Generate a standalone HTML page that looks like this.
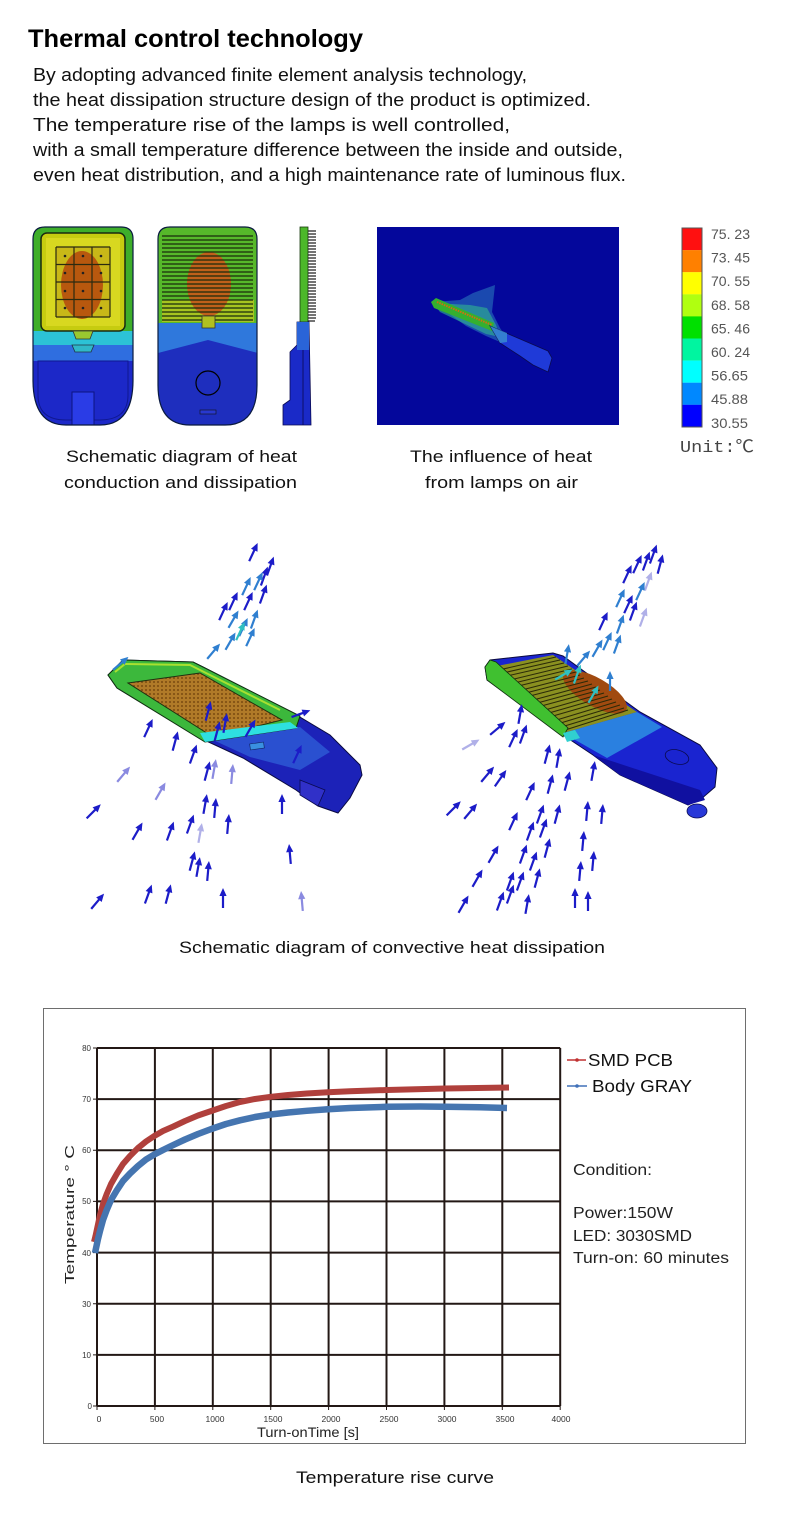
<!DOCTYPE html>
<html><head><meta charset="utf-8"><style>
html,body{margin:0;padding:0;background:#fff;}
svg{display:block;}
text{font-family:"Liberation Sans","Noto Sans CJK SC",sans-serif;}
</style></head><body>
<svg width="790" height="1532" viewBox="0 0 790 1532" xmlns="http://www.w3.org/2000/svg">
<defs>
<g id="ar"><path d="M0,9 L0,-5" stroke="currentColor" stroke-width="2.2" fill="none"/><path d="M-3.6,-3 L0,-11 L3.6,-3 Z" fill="currentColor"/></g>
<pattern id="dots" width="4" height="4" patternUnits="userSpaceOnUse"><rect width="4" height="4" fill="#b07a28"/><circle cx="2" cy="2" r="1" fill="#7a4a10"/></pattern>
<clipPath id="c1"><path d="M45,227 H121 Q133,227 133,239 V380 Q133,425 100,425 H66 Q33,425 33,380 V239 Q33,227 45,227 Z"/></clipPath>
<clipPath id="c2"><path d="M170,227 H245 Q257,227 257,239 V385 Q257,425 225,425 H190 Q158,425 158,385 V239 Q158,227 170,227 Z"/></clipPath>
</defs>

<!-- Title & body -->
<text x="28" y="47" font-size="25" font-weight="bold" fill="#000" textLength="335" lengthAdjust="spacingAndGlyphs">Thermal control technology</text>
<g font-size="18" fill="#111">
<text x="33" y="81" textLength="494" lengthAdjust="spacingAndGlyphs">By adopting advanced finite element analysis technology,</text>
<text x="33" y="106" textLength="558" lengthAdjust="spacingAndGlyphs">the heat dissipation structure design of the product is optimized.</text>
<text x="33" y="131" textLength="477" lengthAdjust="spacingAndGlyphs">The temperature rise of the lamps is well controlled,</text>
<text x="33" y="156" textLength="590" lengthAdjust="spacingAndGlyphs">with a small temperature difference between the inside and outside,</text>
<text x="33" y="181" textLength="593" lengthAdjust="spacingAndGlyphs">even heat distribution, and a high maintenance rate of luminous flux.</text>
</g>

<!-- Image 1: front view -->
<g clip-path="url(#c1)">
<rect x="33" y="227" width="100" height="198" fill="#1c28c8"/>
<rect x="33" y="227" width="100" height="106" fill="#3eae2a"/>
<rect x="33" y="331" width="100" height="14" fill="#2cc2d6"/>
<rect x="33" y="345" width="100" height="16" fill="#2f6ee0"/>
<path d="M38,361 H128 V395 Q128,420 100,420 H66 Q38,420 38,395 Z" fill="none" stroke="#101890" stroke-width="1"/>
<rect x="72" y="392" width="22" height="35" fill="#2a3ce6" stroke="#0c1480" stroke-width="1"/>
</g>
<path d="M45,227 H121 Q133,227 133,239 V380 Q133,425 100,425 H66 Q33,425 33,380 V239 Q33,227 45,227 Z" fill="none" stroke="#0a1a40" stroke-width="1.2"/>
<rect x="41" y="233" width="84" height="98" rx="6" fill="#c6cc10" stroke="#1a2a10" stroke-width="1.5"/>
<rect x="46" y="238" width="74" height="88" fill="#d8d820"/>
<rect x="56" y="247" width="54" height="70" fill="#c8b818"/>
<ellipse cx="82" cy="285" rx="21" ry="34" fill="#b8580e"/>
<g stroke="#2a2a10" stroke-width="1.2">
<path d="M56,247 V317 M74,247 V317 M92,247 V317 M110,247 V317 M56,247 H110 M56,264.5 H110 M56,282 H110 M56,299.5 H110 M56,317 H110"/>
</g>
<g fill="#222"><circle cx="65" cy="256" r="1.3"/><circle cx="83" cy="256" r="1.3"/><circle cx="101" cy="256" r="1.3"/><circle cx="65" cy="273" r="1.3"/><circle cx="83" cy="273" r="1.3"/><circle cx="101" cy="273" r="1.3"/><circle cx="65" cy="291" r="1.3"/><circle cx="83" cy="291" r="1.3"/><circle cx="101" cy="291" r="1.3"/><circle cx="65" cy="308" r="1.3"/><circle cx="83" cy="308" r="1.3"/><circle cx="101" cy="308" r="1.3"/></g>
<path d="M73,331 H93 L90,339 H76 Z" fill="#9ac830" stroke="#333" stroke-width="0.8"/>
<path d="M72,345 H94 L91,352 H75 Z" fill="#30b8c8" stroke="#234" stroke-width="0.8"/>

<!-- Image 2: back view -->
<g clip-path="url(#c2)">
<rect x="158" y="227" width="100" height="198" fill="#1e2ebe"/>
<rect x="158" y="227" width="100" height="97" fill="#56b82a"/>
<rect x="162" y="300" width="92" height="22" fill="#a6c420"/>
<ellipse cx="209" cy="284" rx="22" ry="32" fill="#c0601a"/>
<path d="M158,323 H258 V353 L208,340 L158,353 Z" fill="#2f78dc"/>
<g stroke="#1a2a0c" stroke-width="1.2">
<path d="M162,236 H253 M162,240 H253 M162,244 H253 M162,248 H253 M162,252 H253 M162,256 H253 M162,260 H253 M162,264 H253 M162,268 H253 M162,272 H253 M162,276 H253 M162,280 H253 M162,284 H253 M162,288 H253 M162,292 H253 M162,296 H253 M162,300 H253 M162,304 H253 M162,308 H253 M162,312 H253 M162,316 H253 M162,320 H253"/>
</g>
<rect x="202" y="316" width="13" height="12" fill="#b0c020" stroke="#333" stroke-width="0.8"/>
</g>
<path d="M170,227 H245 Q257,227 257,239 V385 Q257,425 225,425 H190 Q158,425 158,385 V239 Q158,227 170,227 Z" fill="none" stroke="#0a1a40" stroke-width="1.2"/>
<circle cx="208" cy="383" r="12" fill="none" stroke="#000" stroke-width="1.2"/>
<rect x="200" y="410" width="16" height="4" fill="#2838d0" stroke="#111" stroke-width="0.6"/>

<!-- Image 3: side view -->
<rect x="300" y="227" width="8" height="98" fill="#4cb82a" stroke="#1a3a10" stroke-width="0.8"/>
<g stroke="#222" stroke-width="1.2">
<path d="M308,231 H316 M308,234 H316 M308,237 H316 M308,240 H316 M308,243 H316 M308,246 H316 M308,249 H316 M308,252 H316 M308,255 H316 M308,258 H316 M308,261 H316 M308,264 H316 M308,267 H316 M308,270 H316 M308,273 H316 M308,276 H316 M308,279 H316 M308,282 H316 M308,285 H316 M308,288 H316 M308,291 H316 M308,294 H316 M308,297 H316 M308,300 H316 M308,303 H316 M308,306 H316 M308,309 H316 M308,312 H316 M308,315 H316 M308,318 H316 M308,321 H315"/>
</g>
<path d="M297,322 H309 L311,425 H283 V405 L290,400 V352 L297,345 Z" fill="#1a2ac8" stroke="#0a0a50" stroke-width="0.8"/>
<path d="M297,322 H309 V350 H297 Z" fill="#2a64d8"/>
<path d="M303,350 V425" stroke="#0a0a50" stroke-width="0.8"/>

<!-- Image 4: air heat -->
<rect x="377" y="227" width="242" height="198" fill="#04079b"/>
<path d="M433,302 L460,300 L473,293 L495,285 L492,312 L500,328 L507,338 L500,342 L486,336 L466,326 Z" fill="#2d7fc0" opacity="0.55"/>
<path d="M433,303 L470,305 L487,308 L496,325 L500,337 L486,334 L440,312 Z" fill="#30b890" opacity="0.6"/>
<path d="M431,302 L436,298 L494,323 L492,331 L434,308 Z" fill="#34b030"/>
<path d="M437,302 L492,325" stroke="#d07010" stroke-width="2" stroke-dasharray="1.5 1"/>
<path d="M490,326 L548,351 L552,358 L548,372 L533,365 L520,356 L500,343 Z" fill="#1f3ad8" stroke="#0a0a50" stroke-width="0.8"/>
<path d="M490,326 L507,333 L507,342 L500,343 Z" fill="#3a90d0" opacity="0.8"/>

<!-- Colorbar -->
<g stroke="none">
<rect x="682" y="228" width="20" height="22.2" fill="#ff1010"/>
<rect x="682" y="250.1" width="20" height="22.2" fill="#ff8000"/>
<rect x="682" y="272.2" width="20" height="22.2" fill="#ffff00"/>
<rect x="682" y="294.3" width="20" height="22.2" fill="#b0ff10"/>
<rect x="682" y="316.4" width="20" height="22.2" fill="#00e000"/>
<rect x="682" y="338.5" width="20" height="22.2" fill="#00f5a0"/>
<rect x="682" y="360.6" width="20" height="22.2" fill="#00ffff"/>
<rect x="682" y="382.7" width="20" height="22.2" fill="#0088ff"/>
<rect x="682" y="404.8" width="20" height="22.2" fill="#0000ff"/>
</g>
<rect x="682" y="228" width="20" height="199" fill="none" stroke="#555" stroke-width="1"/>
<g font-size="14" fill="#555">
<text x="711" y="239" textLength="39" lengthAdjust="spacingAndGlyphs">75. 23</text>
<text x="711" y="262.6" textLength="39" lengthAdjust="spacingAndGlyphs">73. 45</text>
<text x="711" y="286.2" textLength="39" lengthAdjust="spacingAndGlyphs">70. 55</text>
<text x="711" y="309.8" textLength="39" lengthAdjust="spacingAndGlyphs">68. 58</text>
<text x="711" y="333.4" textLength="39" lengthAdjust="spacingAndGlyphs">65. 46</text>
<text x="711" y="357" textLength="39" lengthAdjust="spacingAndGlyphs">60. 24</text>
<text x="711" y="380.6" textLength="37" lengthAdjust="spacingAndGlyphs">56.65</text>
<text x="711" y="404.2" textLength="37" lengthAdjust="spacingAndGlyphs">45.88</text>
<text x="711" y="427.8" textLength="37" lengthAdjust="spacingAndGlyphs">30.55</text>
</g>
<text x="680" y="452" font-size="17" fill="#444" style="font-family:'Liberation Mono','Noto Sans CJK SC',monospace" textLength="74" lengthAdjust="spacingAndGlyphs">Unit:℃</text>

<!-- Captions row 1 -->
<g font-size="17" fill="#111">
<text x="66" y="462" textLength="231" lengthAdjust="spacingAndGlyphs">Schematic diagram of heat</text>
<text x="64" y="488" textLength="233" lengthAdjust="spacingAndGlyphs">conduction and dissipation</text>
<text x="410" y="462" textLength="182" lengthAdjust="spacingAndGlyphs">The influence of heat</text>
<text x="425" y="488" textLength="153" lengthAdjust="spacingAndGlyphs">from lamps on air</text>
</g>

<!-- Convective left lamp -->
<path d="M108,675 L123,660 L193,662 L203,667 L293,713 L330,735 L360,765 L362,775 L350,798 L338,813 L318,806 L296,790 L243,758 L200,738 L117,688 Z" fill="#1c22b8" stroke="#0a0a40" stroke-width="1"/>
<path d="M213,740 L300,727 L330,752 L300,770 L250,757 Z" fill="#2a50d0"/>
<path d="M108,675 L123,660 L193,662 L203,667 L300,716 L296,728 L205,742 L117,688 Z" fill="#3cb83c" stroke="#103010" stroke-width="1"/>
<path d="M115,672 L125,664 L190,665 L200,670 L280,710" fill="none" stroke="#a8e030" stroke-width="2"/>
<path d="M128,683 L200,673 L282,720 L213,737 Z" fill="url(#dots)" stroke="#203010" stroke-width="1"/>
<path d="M200,733 L290,722 L298,728 L205,742 Z" fill="#2ee0e0"/>
<rect x="250" y="743" width="14" height="6" fill="#3a90e0" stroke="#102060" stroke-width="0.6" transform="rotate(-8 257 746)"/>
<path d="M300,780 L325,790 L318,806 L300,795 Z" fill="#3030c8" stroke="#0a0a50" stroke-width="0.8"/>

<!-- Convective right lamp -->
<path d="M485,667 L490,660 L553,653 L563,656 L640,712 L700,745 L717,768 L715,787 L700,800 L688,805 L620,775 L593,755 L563,735 L487,680 Z" fill="#1a24d0" stroke="#0a0a40" stroke-width="1"/>
<path d="M563,733 L637,712 L662,727 L607,758 Z" fill="#2a80e0"/>
<path d="M593,755 L700,790 L705,800 L688,805 L620,775 Z" fill="#1010a0"/>
<ellipse cx="697" cy="811" rx="10" ry="7" fill="#2838d8" stroke="#0a0a50" stroke-width="0.8"/>
<ellipse cx="677" cy="757" rx="12" ry="7" fill="none" stroke="#0a0a50" stroke-width="0.8" transform="rotate(15 677 757)"/>
<path d="M487,668 L553,655 L637,712 L563,733 Z" fill="#8a9020"/>
<ellipse cx="595" cy="692" rx="36" ry="14" fill="#a04a10" transform="rotate(30 595 692)"/>
<g stroke="#2a2a08" stroke-width="1">
<path d="M490,672 L556,657 M494,675 L560,660 M498,678 L564,663 M502,682 L568,666 M506,685 L572,669 M510,688 L576,672 M514,692 L580,675 M518,695 L584,678 M522,698 L588,681 M526,702 L592,684 M530,705 L596,687 M534,708 L600,690 M538,712 L604,693 M542,715 L608,696 M546,718 L612,699 M550,722 L616,702 M554,725 L620,705 M558,728 L624,708 M562,731 L628,710"/>
</g>
<path d="M485,667 L490,660 L496,662 L568,728 L563,737 L487,680 Z" fill="#40c030" stroke="#103010" stroke-width="0.8"/>
<path d="M563,733 L575,730 L580,738 L567,742 Z" fill="#30d0d0"/>

<!-- Arrows left -->
<g>
<use href="#ar" transform="translate(253,553) rotate(25)" color="#1c1cc8"/>
<use href="#ar" transform="translate(270,567) rotate(20)" color="#1c1cc8"/>
<use href="#ar" transform="translate(264,577) rotate(20)" color="#1c1cc8"/>
<use href="#ar" transform="translate(258,582) rotate(25)" color="#2f7fd0"/>
<use href="#ar" transform="translate(246,587) rotate(25)" color="#2f7fd0"/>
<use href="#ar" transform="translate(233,602) rotate(25)" color="#1c1cc8"/>
<use href="#ar" transform="translate(248,602) rotate(25)" color="#1c1cc8"/>
<use href="#ar" transform="translate(263,595) rotate(20)" color="#1c1cc8"/>
<use href="#ar" transform="translate(233,620) rotate(30)" color="#2f7fd0"/>
<use href="#ar" transform="translate(243,628) rotate(25)" color="#2f7fd0"/>
<use href="#ar" transform="translate(254,620) rotate(20)" color="#2f7fd0"/>
<use href="#ar" transform="translate(250,638) rotate(25)" color="#2f7fd0"/>
<use href="#ar" transform="translate(230,642) rotate(30)" color="#2f7fd0"/>
<use href="#ar" transform="translate(213,652) rotate(40)" color="#2f7fd0"/>
<use href="#ar" transform="translate(240,632) rotate(25)" color="#30c0c0"/>
<use href="#ar" transform="translate(223,612) rotate(25)" color="#1c1cc8"/>
<use href="#ar" transform="translate(120,664) rotate(50)" color="#2f7fd0"/>
<use href="#ar" transform="translate(148,729) rotate(25)" color="#1c1cc8"/>
<use href="#ar" transform="translate(175,742) rotate(15)" color="#1c1cc8"/>
<use href="#ar" transform="translate(193,755) rotate(20)" color="#1c1cc8"/>
<use href="#ar" transform="translate(123,775) rotate(40)" color="#8a8ae0"/>
<use href="#ar" transform="translate(160,792) rotate(30)" color="#8a8ae0"/>
<use href="#ar" transform="translate(207,772) rotate(15)" color="#1c1cc8"/>
<use href="#ar" transform="translate(214,770) rotate(10)" color="#8a8ae0"/>
<use href="#ar" transform="translate(232,775) rotate(5)" color="#8a8ae0"/>
<use href="#ar" transform="translate(93,812) rotate(45)" color="#1c1cc8"/>
<use href="#ar" transform="translate(137,832) rotate(30)" color="#1c1cc8"/>
<use href="#ar" transform="translate(170,832) rotate(20)" color="#1c1cc8"/>
<use href="#ar" transform="translate(190,825) rotate(20)" color="#1c1cc8"/>
<use href="#ar" transform="translate(205,805) rotate(10)" color="#1c1cc8"/>
<use href="#ar" transform="translate(215,809) rotate(5)" color="#1c1cc8"/>
<use href="#ar" transform="translate(228,825) rotate(5)" color="#1c1cc8"/>
<use href="#ar" transform="translate(282,805) rotate(0)" color="#1c1cc8"/>
<use href="#ar" transform="translate(200,834) rotate(10)" color="#b0b0e8"/>
<use href="#ar" transform="translate(192,862) rotate(15)" color="#1c1cc8"/>
<use href="#ar" transform="translate(198,868) rotate(10)" color="#1c1cc8"/>
<use href="#ar" transform="translate(208,872) rotate(5)" color="#1c1cc8"/>
<use href="#ar" transform="translate(290,855) rotate(-5)" color="#1c1cc8"/>
<use href="#ar" transform="translate(97,902) rotate(40)" color="#1c1cc8"/>
<use href="#ar" transform="translate(148,895) rotate(20)" color="#1c1cc8"/>
<use href="#ar" transform="translate(168,895) rotate(15)" color="#1c1cc8"/>
<use href="#ar" transform="translate(223,899) rotate(0)" color="#1c1cc8"/>
<use href="#ar" transform="translate(302,902) rotate(-5)" color="#8a8ae0"/>
<use href="#ar" transform="translate(208,712) rotate(15)" color="#1c1cc8"/>
<use href="#ar" transform="translate(217,732) rotate(15)" color="#1c1cc8"/>
<use href="#ar" transform="translate(225,724) rotate(10)" color="#1c1cc8"/>
<use href="#ar" transform="translate(250,729) rotate(30)" color="#1c1cc8"/>
<use href="#ar" transform="translate(297,755) rotate(25)" color="#1c1cc8"/>
<use href="#ar" transform="translate(300,714) rotate(70)" color="#1c1cc8"/>
</g>
<!-- Arrows right -->
<g>
<use href="#ar" transform="translate(653,555) rotate(20)" color="#1c1cc8"/>
<use href="#ar" transform="translate(646,562) rotate(20)" color="#1c1cc8"/>
<use href="#ar" transform="translate(637,565) rotate(25)" color="#1c1cc8"/>
<use href="#ar" transform="translate(660,565) rotate(15)" color="#1c1cc8"/>
<use href="#ar" transform="translate(627,575) rotate(25)" color="#1c1cc8"/>
<use href="#ar" transform="translate(648,582) rotate(20)" color="#b0b0e8"/>
<use href="#ar" transform="translate(640,592) rotate(25)" color="#2f7fd0"/>
<use href="#ar" transform="translate(620,599) rotate(25)" color="#2f7fd0"/>
<use href="#ar" transform="translate(628,605) rotate(25)" color="#1c1cc8"/>
<use href="#ar" transform="translate(633,612) rotate(20)" color="#1c1cc8"/>
<use href="#ar" transform="translate(643,618) rotate(20)" color="#b0b0e8"/>
<use href="#ar" transform="translate(603,622) rotate(25)" color="#1c1cc8"/>
<use href="#ar" transform="translate(620,625) rotate(20)" color="#2f7fd0"/>
<use href="#ar" transform="translate(607,642) rotate(25)" color="#2f7fd0"/>
<use href="#ar" transform="translate(617,645) rotate(20)" color="#2f7fd0"/>
<use href="#ar" transform="translate(597,649) rotate(30)" color="#2f7fd0"/>
<use href="#ar" transform="translate(583,659) rotate(40)" color="#2f7fd0"/>
<use href="#ar" transform="translate(567,655) rotate(10)" color="#2f7fd0"/>
<use href="#ar" transform="translate(610,682) rotate(0)" color="#2f7fd0"/>
<use href="#ar" transform="translate(593,695) rotate(30)" color="#30c0c0"/>
<use href="#ar" transform="translate(563,675) rotate(60)" color="#30c0c0"/>
<use href="#ar" transform="translate(577,675) rotate(20)" color="#30c0c0"/>
<use href="#ar" transform="translate(520,715) rotate(10)" color="#1c1cc8"/>
<use href="#ar" transform="translate(497,729) rotate(50)" color="#1c1cc8"/>
<use href="#ar" transform="translate(470,745) rotate(60)" color="#b0b0e8"/>
<use href="#ar" transform="translate(513,739) rotate(25)" color="#1c1cc8"/>
<use href="#ar" transform="translate(523,735) rotate(20)" color="#1c1cc8"/>
<use href="#ar" transform="translate(547,755) rotate(15)" color="#1c1cc8"/>
<use href="#ar" transform="translate(558,759) rotate(10)" color="#1c1cc8"/>
<use href="#ar" transform="translate(487,775) rotate(40)" color="#1c1cc8"/>
<use href="#ar" transform="translate(500,779) rotate(35)" color="#1c1cc8"/>
<use href="#ar" transform="translate(530,792) rotate(25)" color="#1c1cc8"/>
<use href="#ar" transform="translate(550,785) rotate(15)" color="#1c1cc8"/>
<use href="#ar" transform="translate(567,782) rotate(15)" color="#1c1cc8"/>
<use href="#ar" transform="translate(593,772) rotate(10)" color="#1c1cc8"/>
<use href="#ar" transform="translate(453,809) rotate(45)" color="#1c1cc8"/>
<use href="#ar" transform="translate(470,812) rotate(40)" color="#1c1cc8"/>
<use href="#ar" transform="translate(513,822) rotate(25)" color="#1c1cc8"/>
<use href="#ar" transform="translate(540,815) rotate(20)" color="#1c1cc8"/>
<use href="#ar" transform="translate(557,815) rotate(15)" color="#1c1cc8"/>
<use href="#ar" transform="translate(587,812) rotate(5)" color="#1c1cc8"/>
<use href="#ar" transform="translate(602,815) rotate(5)" color="#1c1cc8"/>
<use href="#ar" transform="translate(530,832) rotate(20)" color="#1c1cc8"/>
<use href="#ar" transform="translate(543,829) rotate(20)" color="#1c1cc8"/>
<use href="#ar" transform="translate(583,842) rotate(5)" color="#1c1cc8"/>
<use href="#ar" transform="translate(493,855) rotate(30)" color="#1c1cc8"/>
<use href="#ar" transform="translate(523,855) rotate(20)" color="#1c1cc8"/>
<use href="#ar" transform="translate(533,862) rotate(20)" color="#1c1cc8"/>
<use href="#ar" transform="translate(547,849) rotate(15)" color="#1c1cc8"/>
<use href="#ar" transform="translate(593,862) rotate(5)" color="#1c1cc8"/>
<use href="#ar" transform="translate(580,872) rotate(5)" color="#1c1cc8"/>
<use href="#ar" transform="translate(477,879) rotate(30)" color="#1c1cc8"/>
<use href="#ar" transform="translate(510,882) rotate(20)" color="#1c1cc8"/>
<use href="#ar" transform="translate(520,882) rotate(20)" color="#1c1cc8"/>
<use href="#ar" transform="translate(537,879) rotate(15)" color="#1c1cc8"/>
<use href="#ar" transform="translate(463,905) rotate(30)" color="#1c1cc8"/>
<use href="#ar" transform="translate(500,902) rotate(20)" color="#1c1cc8"/>
<use href="#ar" transform="translate(510,895) rotate(20)" color="#1c1cc8"/>
<use href="#ar" transform="translate(527,905) rotate(10)" color="#1c1cc8"/>
<use href="#ar" transform="translate(575,899) rotate(0)" color="#1c1cc8"/>
<use href="#ar" transform="translate(588,902) rotate(0)" color="#1c1cc8"/>
</g>

<text x="179" y="953" font-size="17" fill="#111" textLength="426" lengthAdjust="spacingAndGlyphs">Schematic diagram of convective heat dissipation</text>

<!-- Chart -->
<rect x="43.5" y="1008.5" width="702" height="435" fill="#fff" stroke="#6e6e6e" stroke-width="1"/>
<g stroke="#231815" stroke-width="2" fill="none">
<path d="M97,1048 V1406 M154.9,1048 V1406 M212.8,1048 V1406 M270.7,1048 V1406 M328.6,1048 V1406 M386.5,1048 V1406 M444.4,1048 V1406 M502.3,1048 V1406 M560.2,1048 V1406"/>
<path d="M97,1048 H560.2 M97,1099.1 H560.2 M97,1150.3 H560.2 M97,1201.4 H560.2 M97,1252.6 H560.2 M97,1303.7 H560.2 M97,1354.9 H560.2 M97,1406 H560.2"/>
</g>
<g stroke="#231815" stroke-width="1">
<path d="M93,1048 H97 M93,1099.1 H97 M93,1150.3 H97 M93,1201.4 H97 M93,1252.6 H97 M93,1303.7 H97 M93,1354.9 H97 M93,1406 H97"/>
<path d="M97,1406 V1410 M154.9,1406 V1410 M212.8,1406 V1410 M270.7,1406 V1410 M328.6,1406 V1410 M386.5,1406 V1410 M444.4,1406 V1410 M502.3,1406 V1410 M560.2,1406 V1410"/>
</g>
<g font-size="8" fill="#333" text-anchor="end">
<text x="91" y="1051">80</text><text x="91" y="1102">70</text><text x="91" y="1153">60</text><text x="91" y="1204">50</text><text x="91" y="1256">40</text><text x="91" y="1307">30</text><text x="91" y="1358">10</text><text x="92" y="1409">0</text>
</g>
<g font-size="8.5" fill="#333" text-anchor="middle">
<text x="99" y="1422">0</text><text x="157" y="1422">500</text><text x="215" y="1422">1000</text><text x="273" y="1422">1500</text><text x="331" y="1422">2000</text><text x="389" y="1422">2500</text><text x="447" y="1422">3000</text><text x="505" y="1422">3500</text><text x="561" y="1422">4000</text>
</g>
<text x="257" y="1437" font-size="14" fill="#222" textLength="102" lengthAdjust="spacingAndGlyphs">Turn-onTime [s]</text>
<text transform="translate(74,1284) rotate(-90)" font-size="13" fill="#222" textLength="139" lengthAdjust="spacingAndGlyphs">Temperature ° C</text>

<polyline points="94,1242 95.5,1236 97,1229 98.5,1222 100,1215 103,1204 106.7,1194 111,1184 116.7,1174 123,1164 130,1156 138,1148 146,1141.5 154.3,1136 163,1131 173.3,1126.5 185,1121 198,1115.5 212.7,1110.5 226,1106 240,1102 255,1099 270.7,1096.8 288,1095 306.7,1093.5 328,1092.2 350,1091.3 387,1090 445,1088.5 509,1087.5" fill="none" stroke="#b0403c" stroke-width="6" stroke-linejoin="round"/>
<polyline points="95,1253 96.5,1246 98,1239 100,1231 103,1220 106.7,1210 111,1200 116.7,1190.5 123,1181 130,1173.5 138,1166 146,1159.5 154.3,1154.5 163,1150 173.3,1145 185,1139.5 198,1134 212.7,1128.5 226,1124 240,1120.3 255,1117 270.7,1114.5 288,1112.5 306.7,1110.8 328,1109.2 350,1108 387,1106.8 420,1106.5 445,1106.7 480,1107.3 507,1108" fill="none" stroke="#4575b0" stroke-width="6.5" stroke-linejoin="round"/>

<!-- Legend -->
<path d="M567,1060 H586" stroke="#c03030" stroke-width="1.6"/><circle cx="577" cy="1060" r="1.8" fill="#c03030"/>
<path d="M567,1086 H587" stroke="#4070b8" stroke-width="1.6"/><circle cx="577" cy="1086" r="1.8" fill="#4070b8"/>
<text x="588" y="1066" font-size="17.5" fill="#111" textLength="85" lengthAdjust="spacingAndGlyphs">SMD PCB</text>
<text x="592" y="1092" font-size="17.5" fill="#111" textLength="100" lengthAdjust="spacingAndGlyphs">Body GRAY</text>
<g font-size="15.5" fill="#222">
<text x="573" y="1175" textLength="79" lengthAdjust="spacingAndGlyphs">Condition:</text>
<text x="573" y="1218" textLength="100" lengthAdjust="spacingAndGlyphs">Power:150W</text>
<text x="573" y="1241" textLength="119" lengthAdjust="spacingAndGlyphs">LED: 3030SMD</text>
<text x="573" y="1263" textLength="156" lengthAdjust="spacingAndGlyphs">Turn-on: 60 minutes</text>
</g>

<text x="296" y="1483" font-size="17" fill="#111" textLength="198" lengthAdjust="spacingAndGlyphs">Temperature rise curve</text>
</svg>
</body></html>
